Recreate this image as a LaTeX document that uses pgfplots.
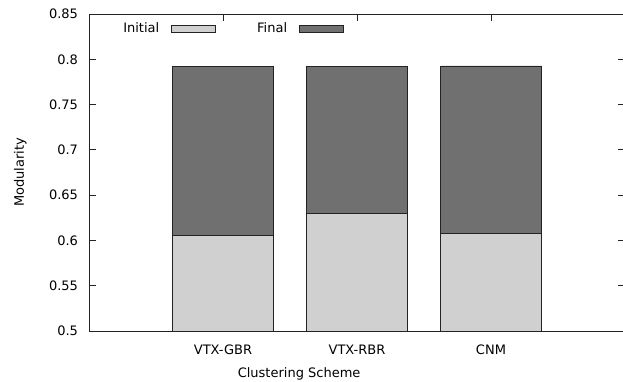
\documentclass[border=0pt]{standalone}
\usepackage{fontspec}
\setmainfont{DejaVu Sans}
\usepackage{pgfplots}
\pgfplotsset{compat=1.18}
\definecolor{cinit}{RGB}{208,208,208}
\definecolor{cfinal}{RGB}{112,112,112}
\definecolor{cline}{RGB}{35,35,35}
\newcommand{\cf}{\fontsize{13}{15.5}\selectfont}
\begin{document}
\cf
\begin{tikzpicture}
\begin{axis}[
  at={(0pt,0pt)}, anchor=south west,
  scale only axis, width=536pt, height=317pt,
  xmin=0, xmax=4, ymin=0.5, ymax=0.85,
  ybar stacked, bar width=0.75,
  xtick={1,2,3}, xticklabels={VTX-GBR,VTX-RBR,CNM},
  ytick={0.5,0.55,0.6,0.65,0.7,0.75,0.8,0.85},
  yticklabels={0.5,0.55,0.6,0.65,0.7,0.75,0.8,0.85},
  tick align=inside, major tick length=7pt,
  xtick pos=both, ytick pos=both,
  axis line style={line width=0.9pt, cline},
  tick style={line width=0.9pt, cline},
  tick label style={font=\cf},
  label style={font=\cf},
  yticklabel style={xshift=-6.5pt},
  xticklabel style={anchor=base, yshift=-23pt},
  xlabel={Clustering Scheme}, ylabel={Modularity},
  every axis x label/.style={at={(axis description cs:0.392,-0.1467)}, anchor=base},
  every axis y label/.style={at={(axis description cs:-0.1213,0.5)}, rotate=90, anchor=base},
  legend plot pos=right,
  legend columns=2,
  legend image code/.code={\draw[#1] (12pt,-3.8pt) rectangle (56pt,3.8pt); \path (0pt,0pt) (97pt,0pt);},
  legend style={font=\cf, draw=none, fill=none, inner sep=0pt, outer sep=0pt,
    column sep=0pt, nodes={inner sep=0pt},
    at={(axis description cs:0.0640,0.9527)}, anchor=west},
]
\addplot[fill=cinit, draw=cline, line width=0.9pt] coordinates {(1,0.6057) (2,0.6300) (3,0.6075)};
\addlegendentry{Initial}
\addplot[fill=cfinal, draw=cline, line width=0.9pt] coordinates {(1,0.1868) (2,0.1622) (3,0.1851)};
\addlegendentry{Final}
\end{axis}
\pgfresetboundingbox
\useasboundingbox (-89pt,-50pt) rectangle (534pt,331pt);
\end{tikzpicture}
\end{document}
